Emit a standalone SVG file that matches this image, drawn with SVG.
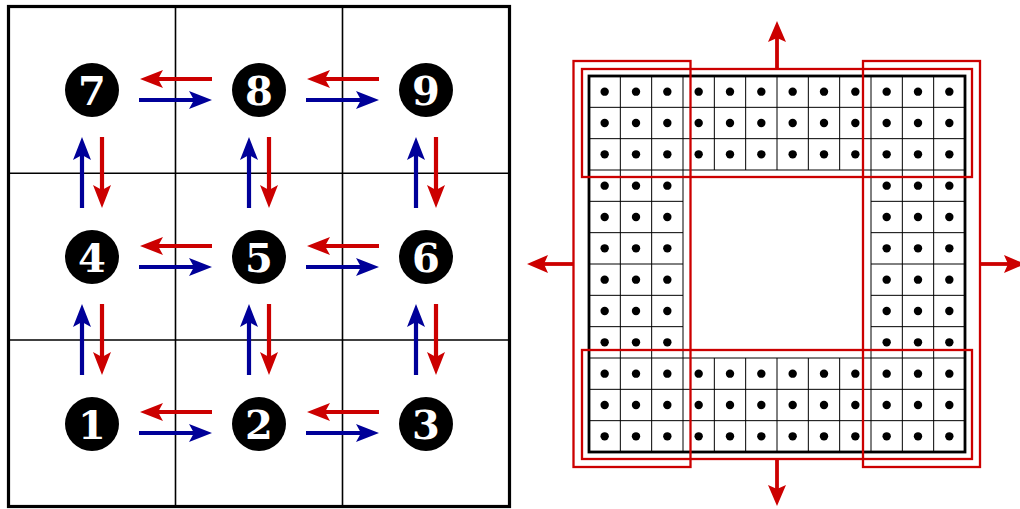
<svg xmlns="http://www.w3.org/2000/svg" width="1020" height="509" viewBox="0 0 1020 509">
<style>
.frame{fill:none;stroke:#000;stroke-width:3.2}
.gl{stroke:#000;stroke-width:1.6;fill:none}
.node circle{fill:#000}
.node text{fill:#fff;font-family:"DejaVu Serif",serif;font-weight:bold;font-size:40px;text-anchor:middle}
.ar{stroke:#cc0000;stroke-width:4.2;fill:none;marker-end:url(#hr)}
.ab{stroke:#000099;stroke-width:4.2;fill:none;marker-end:url(#hb)}
.ar2{stroke:#cc0000;stroke-width:3.8;fill:none;marker-end:url(#hr2)}
.cl{stroke:#000;stroke-width:1}
.ob{fill:none;stroke:#000;stroke-width:2.8}
.dot{fill:#000}
.rr{fill:none;stroke:#cc0000;stroke-width:2.3}
</style>
<defs>
<marker id="hr" markerUnits="userSpaceOnUse" orient="auto" overflow="visible" markerWidth="1" markerHeight="1" refX="0" refY="0"><path d="M-5,-9 L18,0 L-5,9 L0,0 Z" fill="#cc0000"/></marker>
<marker id="hb" markerUnits="userSpaceOnUse" orient="auto" overflow="visible" markerWidth="1" markerHeight="1" refX="0" refY="0"><path d="M-5,-9 L18,0 L-5,9 L0,0 Z" fill="#000099"/></marker>
<marker id="hr2" markerUnits="userSpaceOnUse" orient="auto" overflow="visible" markerWidth="1" markerHeight="1" refX="0" refY="0"><path d="M-4,-9 L17,0 L-4,9 L0,0 Z" fill="#cc0000"/></marker>
</defs>
<rect width="1020" height="509" fill="#fff"/>
<g id="left-grid">
<line class="gl" x1="175.5" y1="6.5" x2="175.5" y2="506.5"/>
<line class="gl" x1="342.5" y1="6.5" x2="342.5" y2="506.5"/>
<line class="gl" x1="8.5" y1="173.3" x2="509.5" y2="173.3"/>
<line class="gl" x1="8.5" y1="340" x2="509.5" y2="340"/>
<rect class="frame" x="8.5" y="6.5" width="501" height="500"/>
</g>
<g id="connectors">
<line class="ar" x1="212" y1="79" x2="158" y2="79"/>
<line class="ab" x1="139" y1="100" x2="194" y2="100"/>
<line class="ar" x1="379" y1="79" x2="325" y2="79"/>
<line class="ab" x1="306" y1="100" x2="361" y2="100"/>
<line class="ar" x1="212" y1="246" x2="158" y2="246"/>
<line class="ab" x1="139" y1="267" x2="194" y2="267"/>
<line class="ar" x1="379" y1="246" x2="325" y2="246"/>
<line class="ab" x1="306" y1="267" x2="361" y2="267"/>
<line class="ar" x1="212" y1="412" x2="158" y2="412"/>
<line class="ab" x1="139" y1="433" x2="194" y2="433"/>
<line class="ar" x1="379" y1="412" x2="325" y2="412"/>
<line class="ab" x1="306" y1="433" x2="361" y2="433"/>
<line class="ab" x1="82" y1="208" x2="82" y2="155"/>
<line class="ar" x1="102" y1="137" x2="102" y2="190"/>
<line class="ab" x1="249" y1="208" x2="249" y2="155"/>
<line class="ar" x1="269" y1="137" x2="269" y2="190"/>
<line class="ab" x1="416" y1="208" x2="416" y2="155"/>
<line class="ar" x1="436" y1="137" x2="436" y2="190"/>
<line class="ab" x1="82" y1="375" x2="82" y2="322"/>
<line class="ar" x1="102" y1="304" x2="102" y2="357"/>
<line class="ab" x1="249" y1="375" x2="249" y2="322"/>
<line class="ar" x1="269" y1="304" x2="269" y2="357"/>
<line class="ab" x1="416" y1="375" x2="416" y2="322"/>
<line class="ar" x1="436" y1="304" x2="436" y2="357"/>
</g>
<g id="n7" class="node"><circle cx="92" cy="90" r="27"/><text x="92" y="105">7</text></g>
<g id="n8" class="node"><circle cx="259" cy="90" r="27"/><text x="259" y="105">8</text></g>
<g id="n9" class="node"><circle cx="426" cy="90" r="27"/><text x="426" y="105">9</text></g>
<g id="n4" class="node"><circle cx="92" cy="257" r="27"/><text x="92" y="272">4</text></g>
<g id="n5" class="node"><circle cx="259" cy="257" r="27"/><text x="259" y="272">5</text></g>
<g id="n6" class="node"><circle cx="426" cy="257" r="27"/><text x="426" y="272">6</text></g>
<g id="n1" class="node"><circle cx="92" cy="424" r="27"/><text x="92" y="439">1</text></g>
<g id="n2" class="node"><circle cx="259" cy="424" r="27"/><text x="259" y="439">2</text></g>
<g id="n3" class="node"><circle cx="426" cy="424" r="27"/><text x="426" y="439">3</text></g>
<g id="right-grid">
<path class="cl" d="M589,107.33H965M589,138.67H965M589,170H965M589,358H965M589,389.33H965M589,420.67H965
M589,201.33H683M589,232.67H683M589,264H683M589,295.33H683M589,326.67H683
M871,201.33H965M871,232.67H965M871,264H965M871,295.33H965M871,326.67H965
M620.33,76V452M651.67,76V452M683,76V452M871,76V452M902.33,76V452M933.67,76V452
M714.33,76V170M745.67,76V170M777,76V170M808.33,76V170M839.67,76V170
M714.33,358V452M745.67,358V452M777,358V452M808.33,358V452M839.67,358V452"/>
<rect class="ob" x="589" y="76" width="376" height="376"/>
<g id="dots" class="dot">
<circle cx="604.67" cy="91.67" r="4.2"/><circle cx="636" cy="91.67" r="4.2"/><circle cx="667.33" cy="91.67" r="4.2"/><circle cx="698.67" cy="91.67" r="4.2"/><circle cx="730" cy="91.67" r="4.2"/><circle cx="761.33" cy="91.67" r="4.2"/><circle cx="792.67" cy="91.67" r="4.2"/><circle cx="824" cy="91.67" r="4.2"/><circle cx="855.33" cy="91.67" r="4.2"/><circle cx="886.67" cy="91.67" r="4.2"/><circle cx="918" cy="91.67" r="4.2"/><circle cx="949.33" cy="91.67" r="4.2"/>
<circle cx="604.67" cy="123" r="4.2"/><circle cx="636" cy="123" r="4.2"/><circle cx="667.33" cy="123" r="4.2"/><circle cx="698.67" cy="123" r="4.2"/><circle cx="730" cy="123" r="4.2"/><circle cx="761.33" cy="123" r="4.2"/><circle cx="792.67" cy="123" r="4.2"/><circle cx="824" cy="123" r="4.2"/><circle cx="855.33" cy="123" r="4.2"/><circle cx="886.67" cy="123" r="4.2"/><circle cx="918" cy="123" r="4.2"/><circle cx="949.33" cy="123" r="4.2"/>
<circle cx="604.67" cy="154.33" r="4.2"/><circle cx="636" cy="154.33" r="4.2"/><circle cx="667.33" cy="154.33" r="4.2"/><circle cx="698.67" cy="154.33" r="4.2"/><circle cx="730" cy="154.33" r="4.2"/><circle cx="761.33" cy="154.33" r="4.2"/><circle cx="792.67" cy="154.33" r="4.2"/><circle cx="824" cy="154.33" r="4.2"/><circle cx="855.33" cy="154.33" r="4.2"/><circle cx="886.67" cy="154.33" r="4.2"/><circle cx="918" cy="154.33" r="4.2"/><circle cx="949.33" cy="154.33" r="4.2"/>
<circle cx="604.67" cy="185.67" r="4.2"/><circle cx="636" cy="185.67" r="4.2"/><circle cx="667.33" cy="185.67" r="4.2"/><circle cx="886.67" cy="185.67" r="4.2"/><circle cx="918" cy="185.67" r="4.2"/><circle cx="949.33" cy="185.67" r="4.2"/>
<circle cx="604.67" cy="217" r="4.2"/><circle cx="636" cy="217" r="4.2"/><circle cx="667.33" cy="217" r="4.2"/><circle cx="886.67" cy="217" r="4.2"/><circle cx="918" cy="217" r="4.2"/><circle cx="949.33" cy="217" r="4.2"/>
<circle cx="604.67" cy="248.33" r="4.2"/><circle cx="636" cy="248.33" r="4.2"/><circle cx="667.33" cy="248.33" r="4.2"/><circle cx="886.67" cy="248.33" r="4.2"/><circle cx="918" cy="248.33" r="4.2"/><circle cx="949.33" cy="248.33" r="4.2"/>
<circle cx="604.67" cy="279.67" r="4.2"/><circle cx="636" cy="279.67" r="4.2"/><circle cx="667.33" cy="279.67" r="4.2"/><circle cx="886.67" cy="279.67" r="4.2"/><circle cx="918" cy="279.67" r="4.2"/><circle cx="949.33" cy="279.67" r="4.2"/>
<circle cx="604.67" cy="311" r="4.2"/><circle cx="636" cy="311" r="4.2"/><circle cx="667.33" cy="311" r="4.2"/><circle cx="886.67" cy="311" r="4.2"/><circle cx="918" cy="311" r="4.2"/><circle cx="949.33" cy="311" r="4.2"/>
<circle cx="604.67" cy="342.33" r="4.2"/><circle cx="636" cy="342.33" r="4.2"/><circle cx="667.33" cy="342.33" r="4.2"/><circle cx="886.67" cy="342.33" r="4.2"/><circle cx="918" cy="342.33" r="4.2"/><circle cx="949.33" cy="342.33" r="4.2"/>
<circle cx="604.67" cy="373.67" r="4.2"/><circle cx="636" cy="373.67" r="4.2"/><circle cx="667.33" cy="373.67" r="4.2"/><circle cx="698.67" cy="373.67" r="4.2"/><circle cx="730" cy="373.67" r="4.2"/><circle cx="761.33" cy="373.67" r="4.2"/><circle cx="792.67" cy="373.67" r="4.2"/><circle cx="824" cy="373.67" r="4.2"/><circle cx="855.33" cy="373.67" r="4.2"/><circle cx="886.67" cy="373.67" r="4.2"/><circle cx="918" cy="373.67" r="4.2"/><circle cx="949.33" cy="373.67" r="4.2"/>
<circle cx="604.67" cy="405" r="4.2"/><circle cx="636" cy="405" r="4.2"/><circle cx="667.33" cy="405" r="4.2"/><circle cx="698.67" cy="405" r="4.2"/><circle cx="730" cy="405" r="4.2"/><circle cx="761.33" cy="405" r="4.2"/><circle cx="792.67" cy="405" r="4.2"/><circle cx="824" cy="405" r="4.2"/><circle cx="855.33" cy="405" r="4.2"/><circle cx="886.67" cy="405" r="4.2"/><circle cx="918" cy="405" r="4.2"/><circle cx="949.33" cy="405" r="4.2"/>
<circle cx="604.67" cy="436.33" r="4.2"/><circle cx="636" cy="436.33" r="4.2"/><circle cx="667.33" cy="436.33" r="4.2"/><circle cx="698.67" cy="436.33" r="4.2"/><circle cx="730" cy="436.33" r="4.2"/><circle cx="761.33" cy="436.33" r="4.2"/><circle cx="792.67" cy="436.33" r="4.2"/><circle cx="824" cy="436.33" r="4.2"/><circle cx="855.33" cy="436.33" r="4.2"/><circle cx="886.67" cy="436.33" r="4.2"/><circle cx="918" cy="436.33" r="4.2"/><circle cx="949.33" cy="436.33" r="4.2"/>
</g>
<rect class="rr" x="582" y="69" width="390" height="108"/>
<rect class="rr" x="582" y="350" width="390" height="109"/>
<rect class="rr" x="573.5" y="61" width="117" height="406"/>
<rect class="rr" x="863" y="61" width="117" height="406"/>
<line class="ar2" x1="777" y1="69" x2="777" y2="38"/>
<line class="ar2" x1="777" y1="459" x2="777" y2="489"/>
<line class="ar2" x1="573.5" y1="264" x2="544" y2="264"/>
<line class="ar2" x1="980" y1="264" x2="1008" y2="264"/>
</g>
</svg>
